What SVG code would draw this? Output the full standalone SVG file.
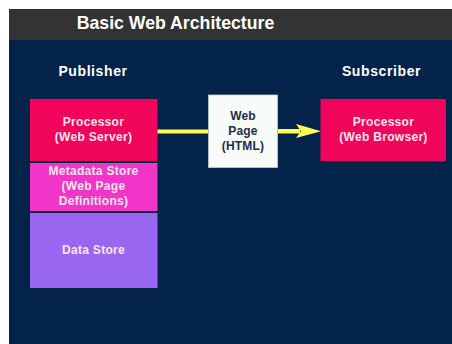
<svg xmlns="http://www.w3.org/2000/svg" width="452" height="344" viewBox="0 0 452 344">
  <style>
    .t { font-family: "Liberation Sans", Arial, sans-serif; font-weight: bold; text-anchor: middle; }
    .lbl { font-size: 12px; fill: #fbe6f0; letter-spacing: 0.3px; }
    .hdr { font-size: 14px; fill: #ffffff; letter-spacing: 0.6px; }
    .dark { font-size: 12px; fill: #1c2c4c; letter-spacing: 0.2px; }
    .conn { fill: #ffff55; }
  </style>
  <rect x="0" y="0" width="452" height="344" fill="#ffffff"/>
  <g id="panel">
    <rect x="9" y="9" width="443" height="335" fill="#03234b"/>
    <rect x="9" y="9" width="443" height="31" fill="#333333"/>
    <text class="t" x="175.5" y="28.5" font-size="17.7" fill="#ffffff">Basic Web Architecture</text>
  </g>
  <g id="publisher-label">
    <text class="t hdr" x="93" y="76">Publisher</text>
  </g>
  <g id="subscriber-label">
    <text class="t hdr" x="381.5" y="76">Subscriber</text>
  </g>
  <g id="connectors">
    <rect class="conn" x="157" y="129.5" width="51" height="4"/>
    <rect class="conn" x="278" y="129" width="22" height="4.5"/>
    <polygon class="conn" points="296,124 321,131.2 296,138 301,131.2"/>
  </g>
  <g id="web-server">
    <rect x="30" y="99" width="127.5" height="62" fill="#f0055a"/>
    <text class="t lbl" x="93.5" y="126">Processor</text>
    <text class="t lbl" x="93.5" y="140.5">(Web Server)</text>
  </g>
  <g id="metadata-store">
    <rect x="30" y="163" width="127.5" height="48" fill="#f035c8"/>
    <text class="t lbl" x="93.5" y="175">Metadata Store</text>
    <text class="t lbl" x="93.5" y="190">(Web Page</text>
    <text class="t lbl" x="93.5" y="204.5">Definitions)</text>
  </g>
  <g id="data-store">
    <rect x="30" y="213" width="127.5" height="75" fill="#9966f2"/>
    <text class="t lbl" x="93.5" y="253.5">Data Store</text>
  </g>
  <g id="web-page">
    <rect x="208.5" y="95" width="69" height="72.5" fill="#f8fcf8" stroke="#c8ccd0" stroke-width="0.8"/>
    <text class="t dark" x="243" y="119.5">Web</text>
    <text class="t dark" x="243" y="135">Page</text>
    <text class="t dark" x="243" y="149.5">(HTML)</text>
  </g>
  <g id="web-browser">
    <rect x="320.5" y="99" width="125.5" height="62" fill="#f0055a"/>
    <text class="t lbl" x="383.5" y="126">Processor</text>
    <text class="t lbl" x="383.5" y="141">(Web Browser)</text>
  </g>
</svg>
